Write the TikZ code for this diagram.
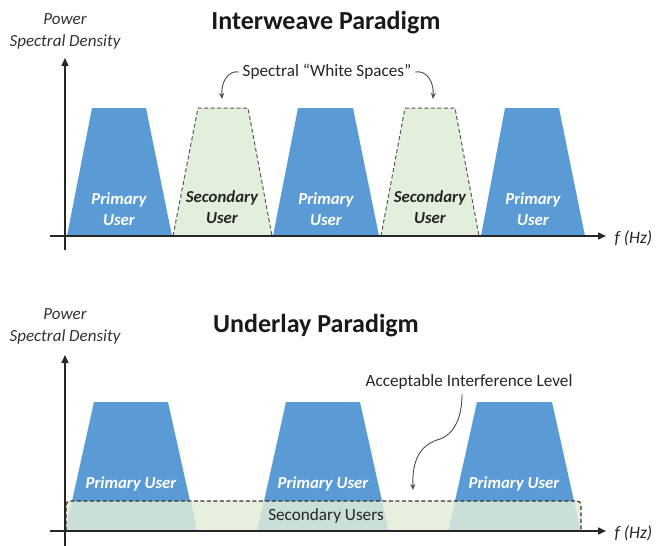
\documentclass[tikz,border=0pt]{standalone}
\usepackage{fontspec}
\setmainfont{Carlito}
\usetikzlibrary{arrows.meta}
\definecolor{pu}{HTML}{5B9BD5}
\definecolor{sufill}{HTML}{E2EFDA}
\definecolor{band}{HTML}{E6F0DD}
\definecolor{overlap}{HTML}{C9DFD7}
\definecolor{axis}{HTML}{262626}
\definecolor{dash}{HTML}{595959}
\tikzset{
  axisline/.style={draw=axis, line width=1.5pt, -{Triangle[length=8pt,width=7pt]}},
  pubox/.style={fill=pu, draw=none},
  subox/.style={fill=sufill, draw=dash, dashed, line width=1pt, dash pattern=on 4pt off 2.5pt},
  putext/.style={text=white, font=\fontsize{16.8}{21.5}\selectfont\bfseries\itshape, align=center},
  sutext/.style={text=black!85, font=\fontsize{16.8}{21.5}\selectfont\bfseries\itshape, align=center},
  title/.style={font=\fontsize{26}{30}\selectfont\bfseries, text=black!90},
  ylab/.style={font=\fontsize{17}{22}\selectfont\itshape, align=center, text=black!80},
  flab/.style={font=\fontsize{17.5}{20}\selectfont\itshape, text=black!85},
  note/.style={font=\fontsize{17.2}{20}\selectfont, text=black!85},
  curvearrow/.style={draw=black!70, line width=0.9pt, -{Stealth[length=6pt,width=5pt]}},
}
\begin{document}
\begin{tikzpicture}[x=1pt,y=-1pt]
\useasboundingbox (0,0) rectangle (657,546);
% ---------- Top panel ----------
\node[title] (t1) at (326,23) {Interweave Paradigm};
\node[ylab] (yl1) at (65,31) {Power\\Spectral Density};
% primary users
\fill[pubox] (67,236) -- (92,108) -- (146,108) -- (172,236) -- cycle;
\fill[pubox] (273,236) -- (298,108) -- (353,108) -- (379,236) -- cycle;
\fill[pubox] (481,236) -- (505,108) -- (559,108) -- (585,236) -- cycle;
% secondary users
\path[subox] (173,236) -- (198,108) -- (248,108) -- (272,236) -- cycle;
\path[subox] (381,236) -- (405,108) -- (455,108) -- (479,236) -- cycle;
\node[putext] (p1) at (119,209) {Primary\\User};
\node[putext] (p2) at (326,209) {Primary\\User};
\node[putext] (p3) at (533,209) {Primary\\User};
\node[sutext] (s1) at (222,207) {Secondary\\User};
\node[sutext] (s2) at (430,207) {Secondary\\User};
% axes
\coordinate (xa0) at (50,236);
\coordinate (xa1) at (606,236);
\coordinate (ya0) at (65,250);
\coordinate (ya1) at (65,58);
\draw[axisline] (xa0) -- (xa1);
\draw[axisline] (ya0) -- (ya1);
\node[flab, anchor=west] (f1) at (611,238) {f (Hz)};
% white spaces note
\node[note] (ws) at (327,72) {Spectral “White Spaces”};
\coordinate (ws1) at (222,99);
\coordinate (ws2) at (433,99);
\draw[curvearrow] (ws.west) .. controls (228,70) and (221,82) .. (ws1);
\draw[curvearrow] (ws.east) .. controls (427,70) and (434,82) .. (ws2);
% ---------- Bottom panel ----------
\node[title] (t2) at (316,326) {Underlay Paradigm};
\node[ylab] (yl2) at (65,326) {Power\\Spectral Density};
% band
\fill[band] (65,501) rectangle (581,531);
% lower (overlap) parts of primary users
\fill[overlap] (65.3,531) -- (72,501) -- (191,501) -- (196.7,531) -- cycle;
\fill[overlap] (257.3,531) -- (264,501) -- (382,501) -- (388.7,531) -- cycle;
\fill[overlap] (448.3,531) -- (455,501) -- (574,501) -- (580.7,531) -- cycle;
% upper parts of primary users
\fill[pubox] (72,501) -- (94,402) -- (168,402) -- (190,501) -- cycle;
\fill[pubox] (264,501) -- (286,402) -- (360,402) -- (382,501) -- cycle;
\fill[pubox] (455,501) -- (477,402) -- (552,402) -- (574,501) -- cycle;
\node[putext] (q1) at (131,484) {Primary User};
\node[putext] (q2) at (323,484) {Primary User};
\node[putext] (q3) at (514,484) {Primary User};
% dashed interference level
\draw[draw=black!80, line width=1.2pt, dash pattern=on 4pt off 2.5pt, rounded corners=4pt]
  (66,531) -- (66,501) -- (581,501) -- (581,531);
\node[note] (su) at (326,516) {Secondary Users};
% axes
\coordinate (xb0) at (50,531);
\coordinate (xb1) at (606,531);
\coordinate (yb0) at (65,546);
\coordinate (yb1) at (65,355);
\draw[axisline] (xb0) -- (xb1);
\draw[axisline] (yb0) -- (yb1);
\node[flab, anchor=west] (f2) at (611,533) {f (Hz)};
% acceptable interference
\node[note] (ail) at (469,382) {Acceptable Interference Level};
\coordinate (ai1) at (413,490);
\draw[curvearrow] (462,394) .. controls (462,430) and (445,438) .. (437,440) .. controls (420,446) and (412,460) .. (ai1);
\end{tikzpicture}
\end{document}
